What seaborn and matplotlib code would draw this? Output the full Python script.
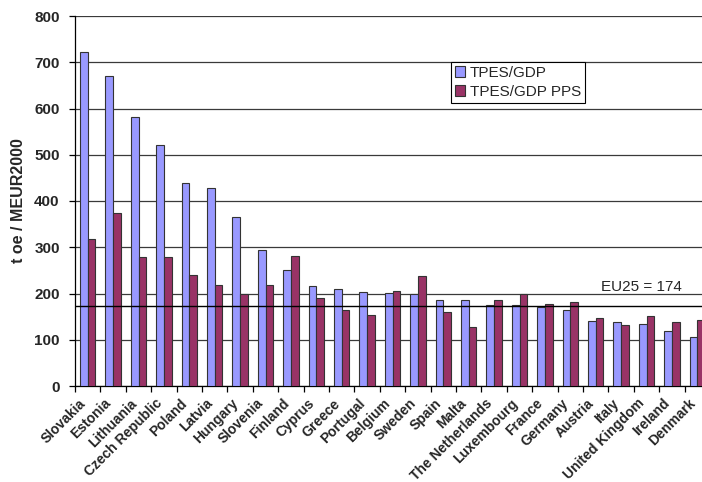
import matplotlib
matplotlib.use("Agg")
import matplotlib.pyplot as plt
from matplotlib.patches import Patch
from matplotlib.ticker import FixedLocator
from matplotlib.transforms import ScaledTranslation
import numpy as np
import pandas as pd
import seaborn as sns

countries = [
    "Slovakia", "Estonia", "Lithuania", "Czech Republic", "Poland", "Latvia",
    "Hungary", "Slovenia", "Finland", "Cyprus", "Greece", "Portugal",
    "Belgium", "Sweden", "Spain", "Malta", "The Netherlands", "Luxembourg",
    "France", "Germany", "Austria", "Italy", "United Kingdom", "Ireland",
    "Denmark",
]
tpes_gdp = [723, 670, 582, 522, 439, 429, 365, 293, 251, 216, 210, 203,
            202, 200, 186, 185, 175, 175, 171, 164, 141, 138, 135, 119, 107]
tpes_gdp_pps = [318, 373, 280, 280, 241, 218, 200, 218, 282, 191, 164, 153,
                205, 238, 159, 128, 187, 200, 178, 181, 146, 131, 151, 138, 142]
series_names = ["TPES/GDP", "TPES/GDP PPS"]
series_colors = ["#9999FF", "#993366"]
eu25 = 174
yticks = [0, 100, 200, 300, 400, 500, 600, 700, 800]

df = pd.DataFrame({
    "country": countries * 2,
    "value": tpes_gdp + tpes_gdp_pps,
    "series": [series_names[0]] * len(countries) + [series_names[1]] * len(countries),
})

sns.set_style("white")
plt.rcParams["font.family"] = ["Liberation Sans", "DejaVu Sans"]

fig = plt.figure(figsize=(7.02, 4.82), dpi=100)
ax = fig.add_axes([75 / 702, 96 / 482, 635 / 702, 370 / 482])

sns.barplot(data=df, x="country", y="value", hue="series", order=countries,
            hue_order=series_names, palette=series_colors, width=0.6,
            edgecolor="#333333", linewidth=0.8, saturation=1, legend=False,
            ax=ax, zorder=3)

ax.set_xlim(-0.5, len(countries) - 0.5)
ax.set_ylim(0, 800)
ax.set_yticks(yticks)
ax.set_yticklabels([str(v) for v in yticks], fontsize=11, fontweight="bold")
ax.yaxis.grid(True, color="#3a3a3a", linewidth=0.9, zorder=0)
ax.xaxis.grid(False)
ax.set_axisbelow(True)

# category labels at the centres, tick marks on the category boundaries
ax.set_xticks(range(len(countries)))
ax.set_xticklabels(countries, rotation=45, ha="right", va="center",
                   rotation_mode="anchor", fontsize=10, fontweight="bold")
ax.xaxis.set_minor_locator(FixedLocator(np.arange(-0.5, len(countries), 1.0)))
ax.tick_params(axis="x", which="major", length=0, pad=11)
ax.tick_params(axis="x", which="minor", length=4, width=0.9, color="black",
               direction="out", bottom=True)
ax.tick_params(axis="y", length=4, width=0.9, color="black", direction="out",
               left=True, pad=7)
for lbl in ax.get_xticklabels():
    lbl.set_transform(lbl.get_transform() +
                      ScaledTranslation(-4 / 100, 0, fig.dpi_scale_trans))

for side in ["top", "right"]:
    ax.spines[side].set_visible(False)
for side in ["left", "bottom"]:
    ax.spines[side].set_color("black")
    ax.spines[side].set_linewidth(0.9)

ax.set_xlabel("")
ax.set_ylabel("t oe / MEUR2000", fontsize=11.5, fontweight="bold")
ax.yaxis.set_label_coords(-0.077, 0.5)

# EU25 average reference line
ax.axhline(eu25, color="black", linewidth=1.0, zorder=4)
ax.text(21.8, eu25 + 40, f"EU25 = {eu25}", fontsize=11, ha="center",
        va="center", zorder=5)

handles = [Patch(facecolor=c, edgecolor="#333333", linewidth=0.8)
           for c in series_colors]
leg = ax.legend(handles, series_names, loc="upper left",
                bbox_to_anchor=(0.592, 0.876), borderaxespad=0,
                fancybox=False, framealpha=1, edgecolor="black",
                fontsize=11, handlelength=0.7, handleheight=0.7,
                handletextpad=0.3, labelspacing=0.35, borderpad=0.25)
leg.get_frame().set_linewidth(0.8)
leg.set_zorder(6)

fig.savefig("out.png", dpi=100)
